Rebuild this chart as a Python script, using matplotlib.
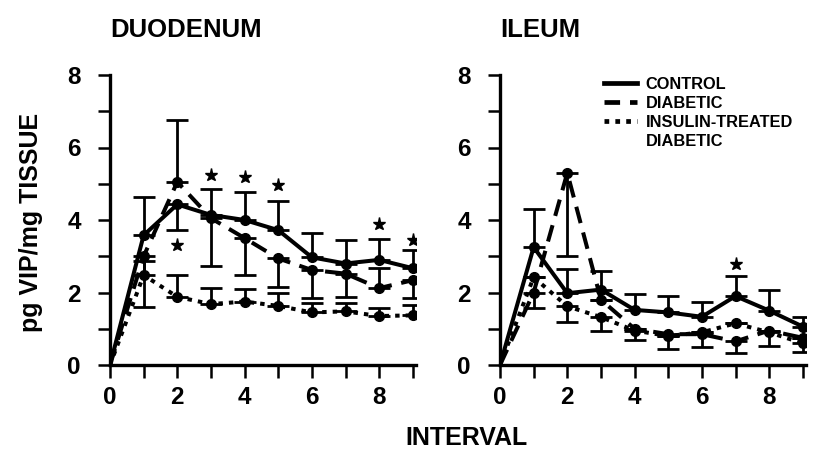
import matplotlib
matplotlib.use("Agg")
import matplotlib.pyplot as plt
from matplotlib.lines import Line2D
from matplotlib.ticker import MultipleLocator

plt.rcParams["font.family"] = ["Liberation Sans", "DejaVu Sans"]
plt.rcParams["font.weight"] = "bold"

# interval numbers on the x axis
interval = [0, 1, 2, 3, 4, 5, 6, 7, 8, 9]

# duodenum (means, lower / upper error lengths as drawn)
duo_control = [0, 3.58, 4.43, 4.14, 4.0, 3.72, 2.97, 2.8, 2.9, 2.67]
duo_control_lo = [0, 0, 0.71, 0, 0, 0, 0, 0, 0, 0]
duo_control_hi = [0, 1.05, 0, 0.72, 0.77, 0.81, 0.68, 0.66, 0.57, 0.5]
duo_diabetic = [0, 3.0, 5.05, 4.05, 3.5, 2.94, 2.62, 2.52, 2.12, 2.34]
duo_diabetic_lo = [0, 1.4, 0, 1.31, 1.02, 0.78, 0.77, 0.65, 0, 0.5]
duo_diabetic_hi = [0, 0, 1.71, 0, 0, 0, 0, 0, 0.55, 0]
duo_insulin = [0, 2.48, 1.88, 1.68, 1.75, 1.63, 1.45, 1.48, 1.35, 1.37]
duo_insulin_lo = [0, 0, 0, 0, 0, 0, 0, 0, 0, 0]
duo_insulin_hi = [0, 0.38, 0.6, 0.45, 0.35, 0.36, 0.27, 0.24, 0.21, 0.28]
duo_star_x = [2, 3, 4, 5, 8, 9]
duo_star_y = [3.3, 5.24, 5.18, 4.97, 3.88, 3.45]

# ileum
ile_control = [0, 3.25, 1.98, 2.08, 1.52, 1.45, 1.33, 1.9, 1.5, 1.06]
ile_control_lo = [0, 0, 0, 0, 0, 0, 0, 0, 0, 0]
ile_control_hi = [0, 1.05, 0.68, 0.52, 0.45, 0.46, 0.42, 0.55, 0.57, 0.27]
ile_diabetic = [0, 2.0, 5.3, 1.8, 1.0, 0.85, 0.85, 0.65, 0.95, 0.75]
ile_diabetic_lo = [0, 0.42, 2.3, 0, 0, 0.42, 0.35, 0.33, 0, 0]
ile_diabetic_hi = [0, 0, 0, 0, 0, 0, 0, 0, 0, 0]
ile_insulin = [0, 2.42, 1.62, 1.32, 0.95, 0.8, 0.9, 1.15, 0.9, 0.6]
ile_insulin_lo = [0, 0, 0.44, 0.38, 0.26, 0, 0, 0, 0.38, 0.23]
ile_insulin_hi = [0, 0, 0, 0, 0, 0, 0, 0, 0, 0]
ile_star_x = [7]
ile_star_y = [2.8]

LW = 2.9
DASHED = (0, (4.2, 2.4))
DOTTED = (0, (1.1, 1.5))


def draw_panel(ax, series, star_x, star_y):
    for y, lo, hi, ls in series:
        ax.errorbar(interval, y, yerr=[lo, hi], fmt="none", ecolor="black",
                    elinewidth=2.0, capsize=8, capthick=2.0, zorder=2)
        ax.plot(interval, y, color="black", linestyle=ls, linewidth=LW,
                dash_capstyle="butt", zorder=3)
        ax.plot(interval[1:], y[1:], "o", color="black", markersize=7, zorder=4)
    ax.plot(star_x, star_y, "*", color="black", markersize=9.5, zorder=4)

    ax.set_xlim(0, 9.08)
    ax.set_ylim(0, 8)
    ax.xaxis.set_major_locator(MultipleLocator(2))
    ax.xaxis.set_minor_locator(MultipleLocator(1))
    ax.yaxis.set_major_locator(MultipleLocator(2))
    ax.yaxis.set_minor_locator(MultipleLocator(1))
    for side in ("top", "right"):
        ax.spines[side].set_visible(False)
    for side in ("left", "bottom"):
        ax.spines[side].set_linewidth(2.4)
    ax.tick_params(which="both", direction="out", length=9, width=1.8)
    ax.tick_params(axis="y", which="major", pad=12, labelsize=17.5)
    ax.tick_params(axis="x", which="major", pad=6, labelsize=17.5)
    for lab in ax.get_xticklabels() + ax.get_yticklabels():
        lab.set_fontweight("bold")


fig = plt.figure(figsize=(8.13, 4.67), dpi=100)
ax1 = fig.add_axes([110 / 813, 102 / 467, 305.5 / 813, 290 / 467])
ax2 = fig.add_axes([500 / 813, 102 / 467, 305.5 / 813, 290 / 467])

draw_panel(ax1, [
    (duo_control, duo_control_lo, duo_control_hi, "-"),
    (duo_diabetic, duo_diabetic_lo, duo_diabetic_hi, DASHED),
    (duo_insulin, duo_insulin_lo, duo_insulin_hi, DOTTED),
], duo_star_x, duo_star_y)

draw_panel(ax2, [
    (ile_control, ile_control_lo, ile_control_hi, "-"),
    (ile_diabetic, ile_diabetic_lo, ile_diabetic_hi, DASHED),
    (ile_insulin, ile_insulin_lo, ile_insulin_hi, DOTTED),
], ile_star_x, ile_star_y)

# legend in the ileum panel
handles = [
    Line2D([], [], color="black", linewidth=3.4, linestyle="-"),
    Line2D([], [], color="black", linewidth=3.4, linestyle=(0, (3.3, 2.1))),
    Line2D([], [], color="black", linewidth=3.4, linestyle=(0, (1, 1.3))),
    Line2D([], [], linestyle="none"),
]
labels = ["CONTROL", "DIABETIC", "INSULIN-TREATED", "DIABETIC"]
leg = ax2.legend(handles, labels, loc="upper left",
                 bbox_to_anchor=(604 / 813, 1 - 77 / 467),
                 bbox_transform=fig.transFigure, frameon=False,
                 prop={"size": 11.8, "weight": "bold"},
                 handlelength=2.0, handletextpad=0.55, labelspacing=0.25,
                 borderpad=0, borderaxespad=0)

fig.text(110 / 813, 1 - 37 / 467, "DUODENUM", fontsize=18.5, fontweight="bold",
         ha="left", va="baseline")
fig.text(500 / 813, 1 - 37 / 467, "ILEUM", fontsize=18.5, fontweight="bold",
         ha="left", va="baseline")
fig.text(466 / 813, 22 / 467, "INTERVAL", fontsize=18, fontweight="bold",
         ha="center", va="baseline")
fig.text(31 / 813, 1 - 222 / 467, "pg VIP/mg TISSUE", fontsize=18,
         fontweight="bold", rotation=90, ha="center", va="center")

fig.savefig("out.png", dpi=100)
